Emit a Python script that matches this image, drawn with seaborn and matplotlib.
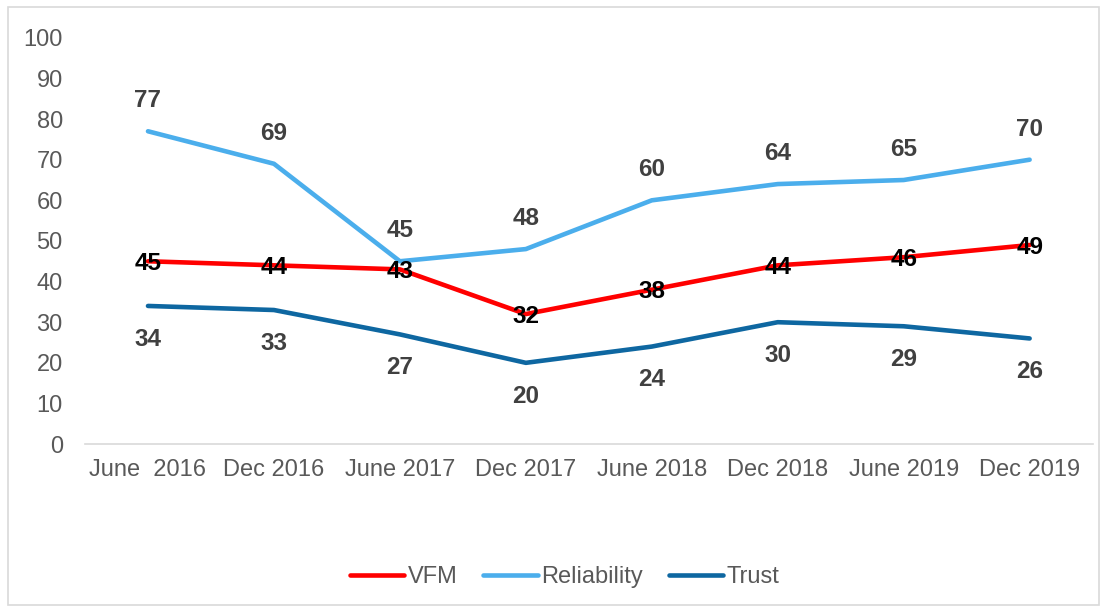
import matplotlib
matplotlib.use("Agg")
import matplotlib.pyplot as plt
import seaborn as sns
import pandas as pd
from matplotlib.patches import Rectangle
from matplotlib.lines import Line2D

categories = ["June  2016", "Dec 2016", "June 2017", "Dec 2017",
              "June 2018", "Dec 2018", "June 2019", "Dec 2019"]
vfm = [45, 44, 43, 32, 38, 44, 46, 49]
reliability = [77, 69, 45, 48, 60, 64, 65, 70]
trust = [34, 33, 27, 20, 24, 30, 29, 26]

series_names = ["VFM", "Reliability", "Trust"]
colors = {"VFM": "#FF0000", "Reliability": "#4BAEEC", "Trust": "#0E67A1"}

rows = []
for name, vals in zip(series_names, [vfm, reliability, trust]):
    for i, (c, v) in enumerate(zip(categories, vals)):
        rows.append({"x": i, "cat": c, "value": v, "series": name})
df = pd.DataFrame(rows)

sns.set_theme(style="white")
plt.rcParams["font.family"] = ["Liberation Sans", "DejaVu Sans"]

fig = plt.figure(figsize=(11.07, 6.10), dpi=100)
ax = fig.add_axes([0.0768, 0.272, 0.9102, 0.666])

LW = 3.3
sns.lineplot(data=df, x="x", y="value", hue="series", hue_order=series_names,
             palette=colors, linewidth=LW, ax=ax, legend=False,
             solid_capstyle="round")

ax.set_xlim(-0.5, len(categories) - 0.5)
ax.set_ylim(0, 100)
ax.set_yticks(range(0, 101, 10))
ax.set_xticks(range(len(categories)))
ax.set_xticklabels(categories)
ax.set_xlabel("")
ax.set_ylabel("")
ax.tick_params(axis="both", length=0, labelsize=17, labelcolor="#595959")
ax.tick_params(axis="y", pad=16)
ax.tick_params(axis="x", pad=11)
for s in ["top", "right", "left"]:
    ax.spines[s].set_visible(False)
ax.spines["bottom"].set_color("#D9D9D9")
ax.spines["bottom"].set_linewidth(1.2)

FS = 17.5
for i, v in enumerate(reliability):
    ax.annotate(str(v), (i, v), xytext=(0, 22), textcoords="offset points",
                ha="center", va="center", fontsize=FS, fontweight="bold",
                color="#404040")
for i, v in enumerate(trust):
    ax.annotate(str(v), (i, v), xytext=(0, -24), textcoords="offset points",
                ha="center", va="center", fontsize=FS, fontweight="bold",
                color="#404040")
for i, v in enumerate(vfm):
    ax.annotate(str(v), (i, v), xytext=(0, -1.5), textcoords="offset points",
                ha="center", va="center", fontsize=FS, fontweight="bold",
                color="#000000")

handles = [Line2D([0], [0], color=colors[n], lw=LW, solid_capstyle="round")
           for n in series_names]
fig.legend(handles, series_names, loc="center", bbox_to_anchor=(0.51, 0.054),
           ncol=3, frameon=False, fontsize=17, labelcolor="#595959",
           handlelength=2.3, handletextpad=0.15, columnspacing=1.1)

fig.patches.append(Rectangle((8 / 1107, 5 / 610), 1 - 16 / 1107, 1 - 12 / 610,
                             transform=fig.transFigure, fill=False,
                             edgecolor="#D9D9D9", linewidth=1.2))

fig.savefig("out.png", dpi=100)
